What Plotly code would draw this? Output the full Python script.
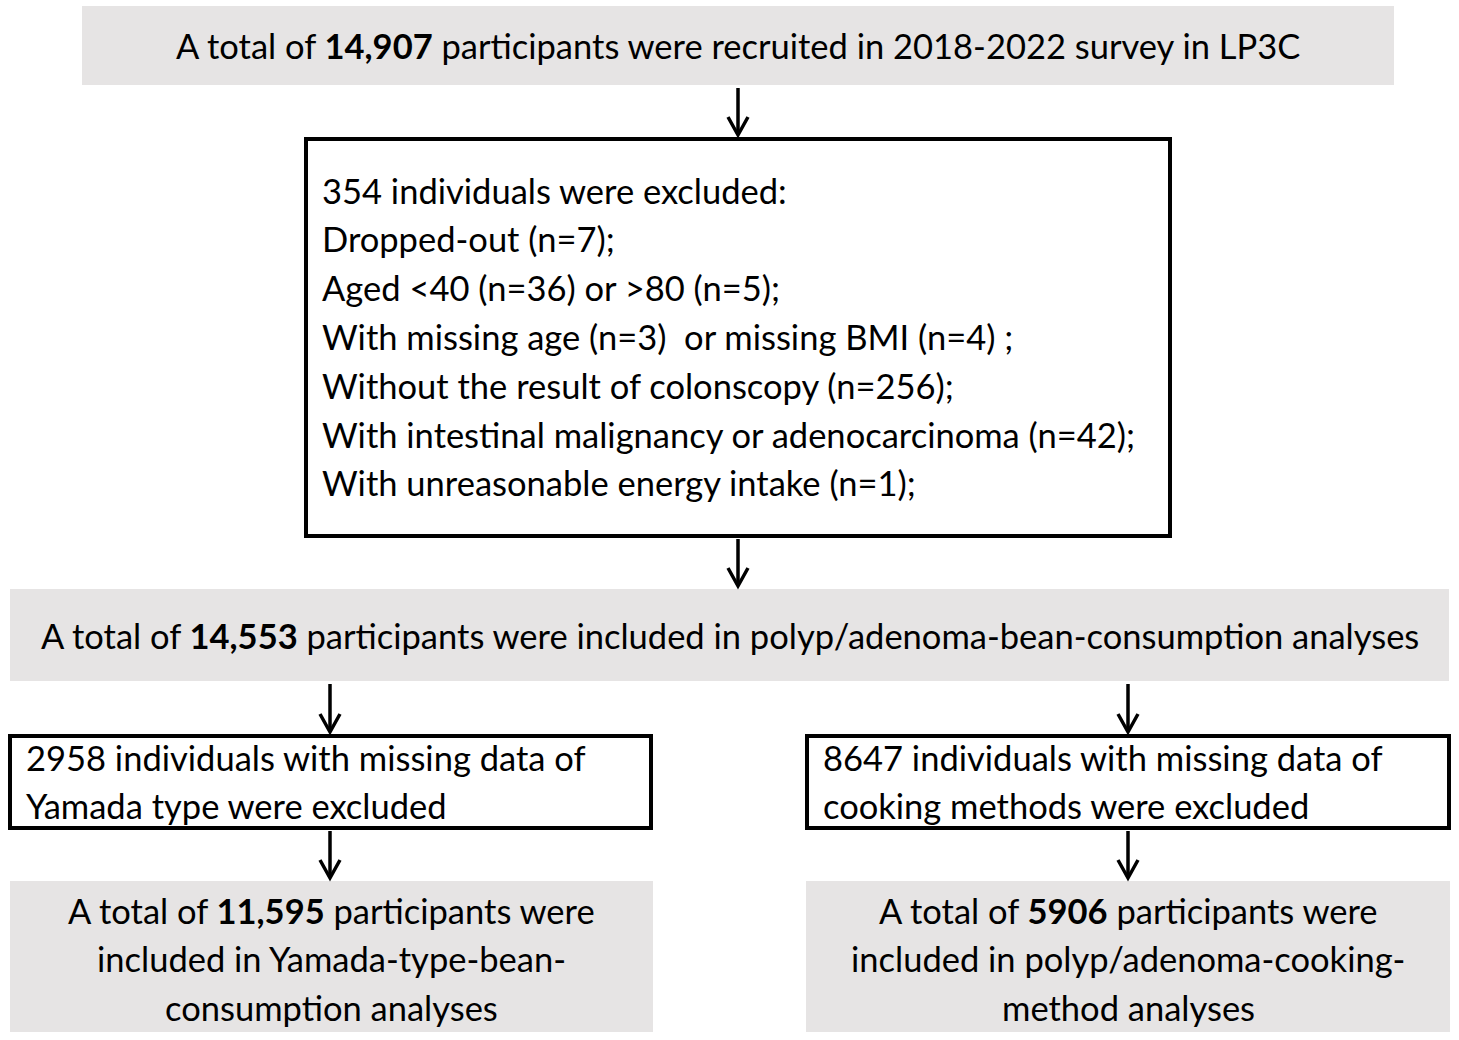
import plotly.graph_objects as go

# texts of each box (one entry per printed line)
top_lines = ["A total of <b>14,907</b> participants were recruited in 2018-2022 survey in LP3C"]
excl_lines = [
    "354 individuals were excluded:",
    "Dropped-out (n=7);",
    "Aged <40 (n=36) or >80 (n=5);",
    "With missing age (n=3)  or missing BMI (n=4) ;",
    "Without the result of colonscopy (n=256);",
    "With intestinal malignancy or adenocarcinoma (n=42);",
    "With unreasonable energy intake (n=1);",
]
mid_lines = ["A total of <b>14,553</b> participants were included in polyp/adenoma-bean-consumption analyses"]
left_excl = ["2958 individuals with missing data of", "Yamada type were excluded"]
right_excl = ["8647 individuals with missing data of", "cooking methods were excluded"]
left_final = ["A total of <b>11,595</b> participants were", "included in Yamada-type-bean-", "consumption analyses"]
right_final = ["A total of <b>5906</b> participants were", "included in polyp/adenoma-cooking-", "method analyses"]

W, H = 1459, 1040
GRAY = "#e6e4e4"
FONT = "Lato, 'Open Sans', sans-serif"
FS = 34.5
LINE = 48.8

# box geometry: x0, y0, x1, y1, style, text lines, align, first-line y
boxes = [
    (82, 6, 1394, 85, "gray", top_lines, "center", 45),
    (304, 137, 1172, 538, "frame", excl_lines, "left", 190),
    (10, 589, 1449, 681, "gray", mid_lines, "center", 635),
    (8, 734, 653, 830, "frame", left_excl, "left", 757),
    (805, 734, 1451, 830, "frame", right_excl, "left", 757),
    (10, 881, 653, 1032, "gray", left_final, "center", 910),
    (806, 881, 1450, 1032, "gray", right_final, "center", 910),
]

shapes, annotations = [], []
for x0, y0, x1, y1, style, lines, align, ty in boxes:
    if style == "gray":
        shapes.append(dict(type="rect", x0=x0, y0=y0, x1=x1, y1=y1,
                           fillcolor=GRAY, line=dict(width=0), layer="below"))
    else:
        shapes.append(dict(type="rect", x0=x0 + 2, y0=y0 + 2, x1=x1 - 2, y1=y1 - 2,
                           fillcolor="white", line=dict(color="black", width=4), layer="below"))
    for i, t in enumerate(lines):
        if align == "left":
            xa, xanchor = x0 + 16, "left"
        else:
            xa, xanchor = (x0 + x1) / 2, "center"
        annotations.append(dict(x=xa, y=ty + i * LINE, xref="x", yref="y", text=t,
                                showarrow=False, xanchor=xanchor, yanchor="middle",
                                font=dict(family=FONT, size=FS, color="black")))


def arrow(x, ya, yb):
    shapes.append(dict(type="line", x0=x, x1=x, y0=ya, y1=yb,
                       line=dict(color="black", width=3.5)))
    shapes.append(dict(type="path", path=f"M {x-10},{yb-18} L {x},{yb} L {x+10},{yb-18}",
                       line=dict(color="black", width=3.5)))


# connectors between boxes (from bottom edge to top edge)
arrow(738, boxes[0][3] + 3, boxes[1][1] - 2)
arrow(738, boxes[1][3] + 1, boxes[2][1] - 3)
arrow(330, boxes[2][3] + 3, boxes[3][1] - 2)
arrow(1128, boxes[2][3] + 3, boxes[4][1] - 2)
arrow(330, boxes[3][3] + 1, boxes[5][1] - 3)
arrow(1128, boxes[4][3] + 1, boxes[6][1] - 3)

fig = go.Figure()
fig.update_layout(
    width=W, height=H,
    margin=dict(l=0, r=0, t=0, b=0),
    paper_bgcolor="white", plot_bgcolor="white",
    xaxis=dict(range=[0, W], visible=False, fixedrange=True),
    yaxis=dict(range=[H, 0], visible=False, fixedrange=True),
    shapes=shapes, annotations=annotations,
    showlegend=False,
)
fig.write_html("out.html", config=dict(displayModeBar=False),
               post_script="document.body.style.margin='0';document.body.style.overflow='hidden';")
